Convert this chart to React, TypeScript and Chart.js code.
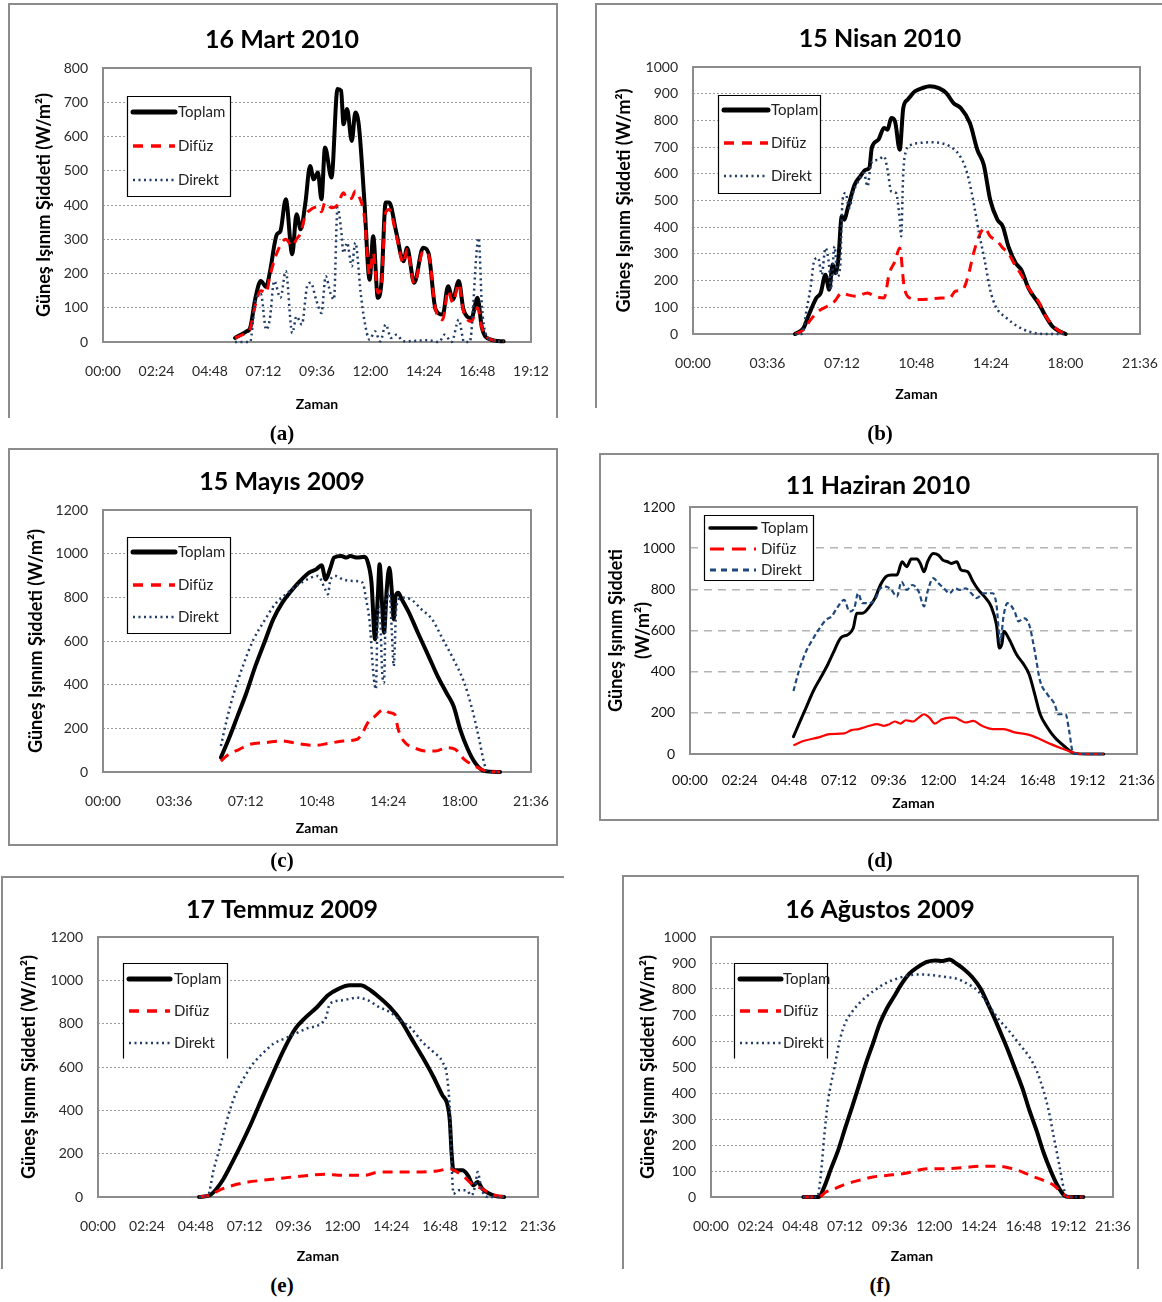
import React, { useEffect, useRef } from "react";
import { Chart, registerables } from "chart.js";
Chart.register(...registerables);

type Pair = [number, number];

const FONT = "Lato, 'Open Sans', 'DejaVu Sans', sans-serif";

// ---------- tick labels ----------
const ticksA = ["00:00", "02:24", "04:48", "07:12", "09:36", "12:00", "14:24", "16:48", "19:12"];
const ticksB = ["00:00", "03:36", "07:12", "10:48", "14:24", "18:00", "21:36"];
const ticksD = ["00:00", "02:24", "04:48", "07:12", "09:36", "12:00", "14:24", "16:48", "19:12", "21:36"];
const seriesLabels = ["Toplam", "Difüz", "Direkt"];
const yTitle = "Güneş Işınım Şiddeti (W/m²)";
const xTitle = "Zaman";

// ---------- (a) 16 Mart 2010  [hour, W/m2] ----------
const martToplam: Pair[] = [[5.92,12],[6.44,31],[6.6,41],[6.84,129],[7.08,178],[7.32,161],[7.48,202],[7.8,314],[7.96,324],[8.2,417],[8.49,256],[8.68,373],[8.87,329],[9.08,407],[9.29,514],[9.45,475],[9.64,495],[9.8,417],[9.96,568],[10.25,480],[10.52,739],[10.68,734],[10.79,636],[10.95,680],[11.16,587],[11.32,670],[11.48,631],[11.72,417],[11.96,182],[12.12,309],[12.33,129],[12.49,173],[12.68,407],[12.84,407],[13.16,319],[13.48,236],[13.64,275],[13.96,173],[14.36,275],[14.6,260],[14.92,95],[15.24,80],[15.48,163],[15.69,124],[15.96,178],[16.17,95],[16.53,70],[16.8,129],[17.0,41],[17.4,7],[17.97,2]];
const martDifuz: Pair[] = [[5.92,12],[6.44,28],[6.6,38],[6.84,110],[7.08,150],[7.32,143],[7.48,190],[7.8,260],[8.2,300],[8.49,280],[8.68,300],[8.87,319],[9.08,370],[9.29,385],[9.45,392],[9.64,395],[9.8,380],[9.96,407],[10.25,392],[10.52,400],[10.79,436],[10.95,417],[11.16,420],[11.32,441],[11.48,426],[11.72,368],[11.96,197],[12.12,260],[12.33,143],[12.49,170],[12.68,378],[12.84,387],[13.16,310],[13.48,230],[13.64,270],[13.96,170],[14.36,265],[14.6,255],[14.92,95],[15.24,65],[15.48,150],[15.69,115],[15.96,170],[16.17,90],[16.53,60],[16.8,100],[17.0,41],[17.4,7],[17.97,2]];
const martDirekt: Pair[] = [[5.92,0],[6.6,0],[6.84,124],[7.08,140],[7.32,36],[7.48,65],[7.68,178],[7.96,129],[8.2,207],[8.49,26],[8.68,75],[8.92,51],[9.16,163],[9.32,173],[9.56,124],[9.8,85],[9.99,192],[10.2,143],[10.36,124],[10.52,392],[10.68,329],[10.79,260],[10.95,290],[11.16,221],[11.32,290],[11.56,143],[11.72,65],[11.96,7],[12.2,31],[12.44,2],[12.68,51],[12.92,12],[13.16,21],[13.48,2],[14.6,5],[15.08,0],[15.32,21],[15.64,0],[15.96,65],[16.2,0],[16.45,0],[16.85,304],[17.0,104],[17.16,26],[17.4,7],[17.97,0]];

// ---------- (b) 15 Nisan 2010 ----------
const nisanToplam: Pair[] = [[4.93,0],[5.34,22],[5.6,72],[5.96,135],[6.17,154],[6.4,222],[6.58,166],[6.75,260],[6.88,228],[7.02,278],[7.19,441],[7.32,428],[7.46,466],[7.55,491],[7.81,559],[8.08,590],[8.34,615],[8.52,622],[8.64,697],[8.96,728],[9.23,772],[9.4,765],[9.58,809],[9.76,797],[9.99,690],[10.16,846],[10.38,878],[10.73,909],[11.08,921],[11.44,928],[11.88,921],[12.23,903],[12.59,865],[12.94,846],[13.38,790],[13.74,690],[14.05,634],[14.36,503],[14.71,428],[14.97,403],[15.24,328],[15.59,266],[15.86,241],[16.21,172],[16.74,110],[17.0,72],[17.36,29],[17.71,10],[18.01,0]];
const nisanDifuz: Pair[] = [[4.93,0],[5.34,16],[5.69,54],[6.05,85],[6.49,104],[6.84,122],[7.19,154],[7.46,147],[7.9,141],[8.43,154],[8.79,141],[9.23,135],[9.49,228],[9.76,272],[9.99,322],[10.2,179],[10.47,135],[10.91,129],[11.44,131],[11.97,135],[12.41,135],[12.67,160],[13.03,166],[13.29,216],[13.56,303],[13.82,366],[14.09,397],[14.36,366],[14.71,347],[14.97,322],[15.24,303],[15.5,266],[15.86,222],[16.21,172],[16.74,116],[17.0,72],[17.36,35],[17.71,10],[18.01,0]];
const nisanDirekt: Pair[] = [[4.93,0],[5.25,0],[5.52,104],[5.69,179],[5.87,278],[6.05,285],[6.22,222],[6.4,322],[6.58,253],[6.66,166],[6.84,328],[6.98,216],[7.11,253],[7.23,503],[7.37,528],[7.55,472],[7.73,528],[7.99,572],[8.26,603],[8.43,553],[8.61,640],[8.96,653],[9.23,665],[9.4,615],[9.58,534],[9.81,528],[9.99,428],[10.06,366],[10.16,603],[10.29,684],[10.55,709],[10.91,715],[11.44,718],[11.97,715],[12.41,703],[12.85,672],[13.2,615],[13.47,528],[13.65,453],[13.82,378],[14.09,278],[14.36,166],[14.62,104],[15.15,60],[15.68,29],[16.21,10],[16.92,0],[17.97,0]];

// ---------- (c) 15 Mayıs 2009 ----------
const mayisToplam: Pair[] = [[5.95,66],[6.34,150],[6.79,256],[7.24,363],[7.69,485],[8.14,592],[8.59,699],[9.05,776],[9.5,829],[9.95,875],[10.4,913],[10.76,928],[11.03,947],[11.24,882],[11.48,936],[11.66,982],[12.02,989],[12.29,982],[12.47,989],[12.83,982],[13.19,986],[13.37,959],[13.55,867],[13.73,608],[13.87,806],[13.96,952],[14.09,760],[14.18,638],[14.32,837],[14.45,936],[14.58,821],[14.67,699],[14.77,806],[14.9,821],[15.08,791],[15.44,730],[15.89,638],[16.43,531],[16.88,440],[17.33,363],[17.69,302],[18.05,188],[18.41,104],[18.77,43],[19.23,5],[20.04,0]];
const mayisDifuz: Pair[] = [[5.95,50],[6.34,81],[6.88,104],[7.42,127],[8.14,134],[9.05,142],[9.77,131],[10.67,122],[11.39,131],[12.11,142],[12.83,150],[13.1,180],[13.37,226],[13.73,256],[14.18,287],[14.45,272],[14.72,264],[14.9,195],[15.17,142],[15.71,111],[16.25,96],[16.79,96],[17.33,111],[17.78,104],[18.23,58],[18.77,27],[19.32,5],[20.04,0]];
const mayisDirekt: Pair[] = [[5.95,119],[6.25,241],[6.61,363],[7.06,485],[7.6,608],[8.14,692],[8.68,768],[9.23,814],[9.77,852],[10.31,882],[10.85,898],[11.21,837],[11.35,814],[11.48,882],[11.75,898],[12.11,882],[12.65,875],[13.1,867],[13.28,791],[13.46,684],[13.64,455],[13.77,379],[13.87,730],[13.96,760],[14.09,455],[14.18,409],[14.27,730],[14.45,821],[14.58,638],[14.67,485],[14.81,760],[15.08,798],[15.53,791],[16.07,745],[16.61,699],[17.15,608],[17.69,516],[18.23,409],[18.59,302],[18.95,165],[19.23,43],[19.41,0],[20.04,0]];

// ---------- (d) 11 Haziran 2010 ----------
const haziranToplam: Pair[] = [[5.0,84],[5.26,145],[5.61,225],[5.96,306],[6.31,370],[6.66,435],[6.92,491],[7.28,564],[7.63,580],[7.89,612],[8.06,684],[8.33,684],[8.68,717],[8.94,757],[9.2,821],[9.47,862],[9.73,870],[10.0,870],[10.25,934],[10.47,910],[10.69,947],[10.96,947],[11.13,926],[11.31,886],[11.48,934],[11.75,974],[12.01,966],[12.22,942],[12.45,934],[12.62,926],[12.89,934],[13.1,894],[13.41,886],[13.68,837],[13.94,797],[14.29,757],[14.55,717],[14.81,628],[14.95,515],[15.08,539],[15.16,596],[15.43,556],[15.78,483],[16.13,435],[16.39,386],[16.66,290],[16.92,193],[17.27,129],[17.62,81],[18.06,40],[18.58,3],[19.2,0],[19.99,0]];
const haziranDifuz: Pair[] = [[5.0,43],[5.52,64],[6.22,81],[6.75,97],[7.45,100],[7.8,116],[8.15,121],[8.68,137],[9.03,145],[9.38,137],[9.64,145],[9.9,158],[10.17,148],[10.43,164],[10.78,158],[11.05,177],[11.31,193],[11.57,177],[11.83,148],[12.18,169],[12.54,177],[12.8,177],[13.06,164],[13.32,153],[13.68,161],[14.11,137],[14.64,121],[15.16,121],[15.69,105],[16.39,93],[16.92,72],[17.44,48],[17.97,27],[18.5,8],[18.85,0],[19.99,0]];
const haziranDirekt: Pair[] = [[5.0,306],[5.26,403],[5.61,499],[5.87,547],[6.22,604],[6.57,652],[6.84,668],[7.1,709],[7.45,749],[7.71,692],[7.94,709],[8.12,781],[8.33,733],[8.68,733],[8.94,749],[9.2,805],[9.47,813],[9.73,797],[10.0,765],[10.22,837],[10.47,797],[10.75,821],[11.05,789],[11.31,717],[11.48,789],[11.75,854],[12.01,829],[12.27,805],[12.54,781],[12.8,805],[13.06,797],[13.32,805],[13.59,781],[13.85,757],[14.2,781],[14.64,781],[14.81,725],[14.99,547],[15.16,676],[15.34,733],[15.69,692],[15.87,644],[16.13,660],[16.39,628],[16.66,499],[16.92,354],[17.27,290],[17.62,242],[17.8,193],[18.15,193],[18.32,113],[18.5,8],[18.67,0],[19.99,0]];

// ---------- (e) 17 Temmuz 2009 ----------
const temmuzToplam: Pair[] = [[4.96,0],[5.49,8],[5.76,31],[6.12,77],[6.56,154],[7.01,238],[7.55,346],[8.08,462],[8.62,577],[9.15,685],[9.69,777],[10.22,831],[10.76,877],[11.29,931],[11.83,962],[12.36,977],[12.9,977],[13.25,962],[13.79,923],[14.32,877],[14.86,815],[15.39,731],[15.93,646],[16.47,554],[16.91,469],[17.14,431],[17.27,354],[17.36,200],[17.45,123],[17.63,123],[17.89,123],[18.16,100],[18.43,54],[18.64,69],[18.87,38],[19.23,15],[19.59,3],[19.94,0]];
const temmuzDifuz: Pair[] = [[4.96,0],[5.49,8],[5.94,31],[6.65,54],[7.37,69],[8.08,77],[8.79,85],[9.51,92],[10.4,100],[11.11,105],[12.0,100],[13.07,100],[13.79,115],[14.5,115],[15.57,115],[16.64,120],[17.27,131],[17.63,115],[17.98,92],[18.43,54],[18.87,38],[19.23,15],[19.94,0]];
const temmuzDirekt: Pair[] = [[4.96,0],[5.4,8],[5.67,123],[5.94,215],[6.2,308],[6.47,400],[6.83,492],[7.19,554],[7.55,608],[8.08,662],[8.62,708],[9.15,731],[9.69,754],[10.22,777],[10.94,800],[11.2,831],[11.38,892],[12.0,908],[12.71,920],[13.25,908],[13.79,877],[14.32,854],[14.86,815],[15.39,777],[15.93,715],[16.47,669],[16.91,623],[17.14,554],[17.27,400],[17.36,154],[17.45,15],[17.71,31],[18.07,31],[18.34,8],[18.52,54],[18.64,115],[18.82,38],[19.14,0],[19.94,0]];

// ---------- (f) 16 Ağustos 2009 ----------
const agustosToplam: Pair[] = [[4.96,0],[5.8,0],[6.08,38],[6.45,109],[6.83,179],[7.2,263],[7.58,346],[7.95,429],[8.32,513],[8.7,590],[9.07,667],[9.44,724],[9.82,769],[10.19,814],[10.66,859],[11.13,885],[11.6,904],[12.06,910],[12.44,908],[12.81,913],[13.19,897],[13.56,878],[14.03,846],[14.49,801],[14.87,744],[15.24,686],[15.62,622],[15.99,558],[16.37,487],[16.74,417],[17.11,333],[17.49,256],[17.86,173],[18.24,103],[18.61,45],[18.98,6],[19.26,0],[20.01,0]];
const agustosDifuz: Pair[] = [[4.96,0],[5.8,0],[6.17,19],[6.64,32],[7.2,49],[7.95,64],[8.7,77],[9.44,83],[10.38,90],[11.13,103],[11.69,109],[12.62,109],[13.56,113],[14.49,118],[15.43,118],[16.18,109],[16.74,96],[17.3,79],[17.86,64],[18.42,45],[18.89,13],[19.26,0],[20.01,0]];
const agustosDirekt: Pair[] = [[4.96,0],[5.7,0],[5.89,77],[6.08,231],[6.27,359],[6.45,436],[6.64,500],[6.92,603],[7.2,667],[7.58,712],[7.95,744],[8.32,769],[8.79,795],[9.35,821],[10.01,840],[10.66,853],[11.32,856],[11.88,853],[12.62,846],[13.19,840],[13.75,821],[14.31,795],[14.87,744],[15.43,686],[15.99,641],[16.55,590],[17.11,538],[17.49,487],[17.86,410],[18.14,333],[18.42,231],[18.7,128],[18.98,26],[19.17,0],[20.01,0]];

// ---------- layout / style (not data) ----------
type PanelCfg = {
  title: string;
  series: Pair[][];
  xTicks: string[];
  yMax: number;
  yStep: number;
  canvas: [number, number, number, number];
  plot: [number, number, number, number];
  titlePos: [number, number];
  yTitleX: number[];
  xTitleY: number;
  legendBox: [number, number, number, number];
  legendClosed: boolean;
  rows: number[];
  sample: [number, number];
  textX: number;
  styleD: boolean;
};

const PANELS: PanelCfg[] = [
  { title: "16 Mart 2010", series: [martToplam, martDifuz, martDirekt], xTicks: ticksA, yMax: 800, yStep: 100,
    canvas: [0, 0, 590, 420], plot: [103, 68, 531, 342], titlePos: [282, 40], yTitleX: [44], xTitleY: 404,
    legendBox: [127, 96, 230, 196], legendClosed: true, rows: [112, 146, 180], sample: [133, 175], textX: 178, styleD: false },
  { title: "15 Nisan 2010", series: [nisanToplam, nisanDifuz, nisanDirekt], xTicks: ticksB, yMax: 1000, yStep: 100,
    canvas: [590, 0, 572, 420], plot: [693, 67, 1140, 334], titlePos: [880, 39], yTitleX: [624], xTitleY: 394,
    legendBox: [718, 95, 820, 193], legendClosed: true, rows: [110, 143, 176], sample: [724, 768], textX: 771, styleD: false },
  { title: "15 Mayıs 2009", series: [mayisToplam, mayisDifuz, mayisDirekt], xTicks: ticksB, yMax: 1200, yStep: 200,
    canvas: [0, 440, 590, 410], plot: [103, 510, 531, 772], titlePos: [282, 482], yTitleX: [36], xTitleY: 828,
    legendBox: [127, 537, 230, 633], legendClosed: true, rows: [552, 585, 617], sample: [133, 175], textX: 178, styleD: false },
  { title: "11 Haziran 2010", series: [haziranToplam, haziranDifuz, haziranDirekt], xTicks: ticksD, yMax: 1200, yStep: 200,
    canvas: [590, 445, 572, 380], plot: [690, 507, 1137, 754], titlePos: [878, 486], yTitleX: [616, 643], xTitleY: 803,
    legendBox: [704, 515, 813, 580], legendClosed: true, rows: [528, 549, 570], sample: [710, 756], textX: 761, styleD: true },
  { title: "17 Temmuz 2009", series: [temmuzToplam, temmuzDifuz, temmuzDirekt], xTicks: ticksD, yMax: 1200, yStep: 200,
    canvas: [0, 870, 600, 400], plot: [98, 937, 538, 1197], titlePos: [282, 910], yTitleX: [29], xTitleY: 1256,
    legendBox: [123, 963, 227, 1058], legendClosed: false, rows: [979, 1011, 1043], sample: [129, 170], textX: 174, styleD: false },
  { title: "16 Ağustos 2009", series: [agustosToplam, agustosDifuz, agustosDirekt], xTicks: ticksD, yMax: 1000, yStep: 100,
    canvas: [600, 870, 562, 400], plot: [711, 937, 1113, 1197], titlePos: [880, 910], yTitleX: [648], xTitleY: 1256,
    legendBox: [734, 963, 827, 1058], legendClosed: false, rows: [979, 1011, 1043], sample: [740, 781], textX: 783, styleD: false },
];

type LineStyle = { color: string; width: number; dash: number[]; cap: CanvasLineCap };
const lineStyles = (d: boolean): LineStyle[] =>
  d
    ? [
        { color: "#000000", width: 3, dash: [], cap: "round" },
        { color: "#FF0000", width: 2.2, dash: [], cap: "butt" },
        { color: "#1F497D", width: 2.2, dash: [5, 3], cap: "butt" },
      ]
    : [
        { color: "#000000", width: 4, dash: [], cap: "round" },
        { color: "#FF0000", width: 3, dash: [10, 7], cap: "butt" },
        { color: "#1F3B66", width: 2.5, dash: [2, 3.5], cap: "butt" },
      ];
const legendStyles = (d: boolean): LineStyle[] =>
  d
    ? [
        { color: "#000000", width: 3.5, dash: [], cap: "round" },
        { color: "#FF0000", width: 3, dash: [14, 8], cap: "butt" },
        { color: "#1F497D", width: 3, dash: [6, 5], cap: "butt" },
      ]
    : [
        { color: "#000000", width: 5, dash: [], cap: "round" },
        { color: "#FF0000", width: 3.5, dash: [10, 8], cap: "butt" },
        { color: "#1F3B66", width: 2.5, dash: [2, 3.5], cap: "butt" },
      ];

const toHours = (s: string) => {
  const [h, m] = s.split(":").map(Number);
  return h + m / 60;
};

function PanelChart({ p }: { p: PanelCfg }) {
  const ref = useRef<HTMLCanvasElement>(null);
  const [cl, ct, cw, ch] = p.canvas;
  useEffect(() => {
    const [pl, pt, pr, pb] = p.plot;
    const tickVals = p.xTicks.map(toHours);
    const styles = lineStyles(p.styleD);
    const lstyles = legendStyles(p.styleD);
    const tickColor = p.styleD ? "#111" : "#2a2a2a";

    const decor = {
      id: "decor",
      beforeDatasetsDraw(chart: any) {
        const { ctx, chartArea: a } = chart;
        ctx.save();
        ctx.strokeStyle = "#8c8c8c";
        ctx.lineWidth = 2;
        ctx.setLineDash([]);
        ctx.strokeRect(a.left, a.top, a.right - a.left, a.bottom - a.top);
        ctx.restore();
      },
      afterDatasetsDraw(chart: any) {
        const ctx: CanvasRenderingContext2D = chart.ctx;
        const [l, t, r, b] = p.legendBox;
        const L = l - cl + 0.5, T = t - ct + 0.5, R = r - cl + 0.5, B = b - ct + 0.5;
        ctx.save();
        ctx.fillStyle = "#fff";
        ctx.fillRect(L, T, R - L, B - T);
        ctx.strokeStyle = "#000";
        ctx.lineWidth = 1.2;
        ctx.setLineDash([]);
        ctx.beginPath();
        if (p.legendClosed) {
          ctx.rect(L, T, R - L, B - T);
        } else {
          ctx.moveTo(L, B);
          ctx.lineTo(L, T);
          ctx.lineTo(R, T);
          ctx.lineTo(R, B);
        }
        ctx.stroke();
        p.rows.forEach((ry, i) => {
          const st = lstyles[i];
          const y = ry - ct;
          ctx.strokeStyle = st.color;
          ctx.lineWidth = st.width;
          ctx.lineCap = st.cap;
          ctx.setLineDash(st.dash);
          ctx.beginPath();
          ctx.moveTo(p.sample[0] - cl, y);
          ctx.lineTo(p.sample[1] - cl, y);
          ctx.stroke();
          ctx.setLineDash([]);
          ctx.fillStyle = "#222";
          ctx.font = `15px ${FONT}`;
          ctx.textAlign = "left";
          ctx.textBaseline = "middle";
          ctx.fillText(seriesLabels[i], p.textX - cl, y);
        });
        ctx.restore();
      },
      afterDraw(chart: any) {
        const ctx: CanvasRenderingContext2D = chart.ctx;
        ctx.save();
        ctx.fillStyle = "#000";
        ctx.textAlign = "center";
        ctx.textBaseline = "middle";
        ctx.font = `bold 25px ${FONT}`;
        ctx.fillText(p.title, p.titlePos[0] - cl, p.titlePos[1] - ct);
        ctx.font = `bold 14px ${FONT}`;
        ctx.fillText(xTitle, (pl + pr) / 2 - cl, p.xTitleY - ct);
        const cy = (pt + pb) / 2 - ct;
        const lines = p.yTitleX.length > 1 ? ["Güneş Işınım Şiddeti", "(W/m²)"] : [yTitle];
        ctx.font = `bold 18px ${FONT}`;
        lines.forEach((txt, i) => {
          ctx.save();
          ctx.translate(p.yTitleX[i] - cl, cy);
          ctx.rotate(-Math.PI / 2);
          ctx.fillText(txt, 0, 0);
          ctx.restore();
        });
        ctx.restore();
      },
    };

    const datasets = p.series.map((s, i) => ({
      label: seriesLabels[i],
      data: s.map(([x, y]) => ({ x, y })),
      borderColor: styles[i].color,
      backgroundColor: styles[i].color,
      borderWidth: styles[i].width,
      borderDash: styles[i].dash,
      borderCapStyle: styles[i].cap,
      borderJoinStyle: "round" as const,
      pointRadius: 0,
      fill: false,
      cubicInterpolationMode: "monotone" as const,
      order: 3 - i,
      clip: 8,
    }));

    const chart = new Chart(ref.current!, {
      type: "line",
      data: { datasets },
      options: {
        responsive: false,
        maintainAspectRatio: false,
        animation: false,
        layout: { padding: { left: 0, top: pt - ct, right: cl + cw - pr, bottom: 0 } },
        plugins: { legend: { display: false }, tooltip: { enabled: false }, title: { display: false } },
        scales: {
          x: {
            type: "linear",
            min: 0,
            max: tickVals[tickVals.length - 1],
            afterBuildTicks: (scale: any) => {
              scale.ticks = tickVals.map((v) => ({ value: v }));
            },
            afterFit: (scale: any) => {
              scale.height = ct + ch - pb;
            },
            ticks: {
              autoSkip: false,
              maxRotation: 0,
              padding: 2,
              color: tickColor,
              font: { family: FONT, size: 14 },
              callback: (v: any) => {
                const i = tickVals.findIndex((t) => Math.abs(t - Number(v)) < 1e-6);
                return i >= 0 ? p.xTicks[i] : "";
              },
            },
            grid: { display: true, drawOnChartArea: false, drawTicks: true, tickLength: p.styleD ? 16 : 19, color: "rgba(0,0,0,0)" },
            border: { display: false },
          },
          y: {
            min: 0,
            max: p.yMax,
            afterFit: (scale: any) => {
              scale.width = pl - cl;
            },
            ticks: {
              stepSize: p.yStep,
              padding: 15,
              color: tickColor,
              font: { family: FONT, size: 14 },
              callback: (v: any) => String(v),
            },
            grid: { color: p.styleD ? "#b4b4b4" : "#9c9c9c", lineWidth: p.styleD ? 1.5 : 1, drawTicks: false },
            border: { display: false, dash: p.styleD ? [8, 6] : [2, 2] },
          },
        },
      } as any,
      plugins: [decor],
    });
    return () => chart.destroy();
  }, []);
  return (
    <canvas
      ref={ref}
      width={cw}
      height={ch}
      style={{ position: "absolute", left: cl, top: ct, width: cw, height: ch }}
    />
  );
}

const FRAME = "2px solid #8c8c8c";
const frames: React.CSSProperties[] = [
  { left: 8, top: 3, width: 550, height: 415, borderTop: FRAME, borderLeft: FRAME, borderRight: FRAME },
  { left: 595, top: 3, width: 600, height: 405, borderTop: FRAME, borderLeft: FRAME },
  { left: 8, top: 448, width: 550, height: 398, border: FRAME },
  { left: 599, top: 453, width: 560, height: 368, border: FRAME },
  { left: 1, top: 876, width: 563, height: 393, borderTop: FRAME, borderLeft: FRAME },
  { left: 622, top: 875, width: 517, height: 394, borderTop: FRAME, borderLeft: FRAME, borderRight: FRAME },
];
const captions: [string, number, number][] = [
  ["(a)", 282, 433], ["(b)", 880, 433], ["(c)", 282, 860], ["(d)", 880, 860], ["(e)", 282, 1285], ["(f)", 880, 1285],
];

export default function App() {
  return (
    <div style={{ position: "absolute", left: 0, top: 0, width: 1162, height: 1302, background: "#fff", overflow: "hidden" }}>
      {frames.map((f, i) => (
        <div key={"f" + i} style={{ position: "absolute", boxSizing: "border-box", ...f }} />
      ))}
      {PANELS.map((p, i) => (
        <PanelChart key={i} p={p} />
      ))}
      {captions.map(([t, x, y]) => (
        <div
          key={t}
          style={{
            position: "absolute",
            left: x - 30,
            top: y - 13,
            width: 60,
            height: 26,
            lineHeight: "26px",
            textAlign: "center",
            fontFamily: "'Liberation Serif', 'Times New Roman', serif",
            fontWeight: "bold",
            fontSize: 21,
            color: "#000",
          }}
        >
          {t}
        </div>
      ))}
    </div>
  );
}
